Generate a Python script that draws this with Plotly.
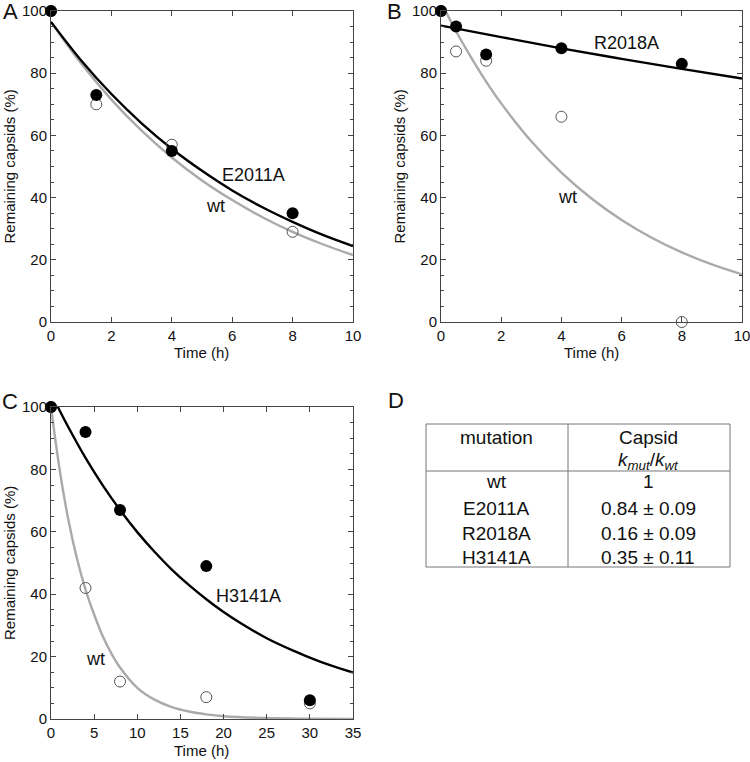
import plotly.graph_objects as go

# ---------------- data ----------------
# Panel A
a_t_pts = [0, 1.5, 4, 8]
a_mut_pts = [100, 73, 55, 35]          # E2011A (filled)
a_wt_pts = [100, 70, 57, 29]           # wt (open)
a_fit_t = [0, 1, 2, 3, 4, 5, 6, 7, 8, 9, 10]
a_mut_fit = [96.5, 84.1, 73.3, 63.9, 55.7, 48.6, 42.3, 36.9, 32.2, 28.0, 24.4]
a_wt_fit = [96.5, 83.1, 71.5, 61.5, 52.9, 45.5, 39.2, 33.7, 29.0, 25.0, 21.5]

# Panel B
b_t_pts = [0, 0.5, 1.5, 4, 8]
b_mut_pts = [100, 95, 86, 88, 83]      # R2018A (filled)
b_wt_pts = [100, 87, 84, 66, 0]        # wt (open)
b_mut_fit_t = [0, 2, 4, 6, 8, 10]
b_mut_fit = [95.3, 91.6, 88.0, 84.6, 81.4, 78.3]
b_wt_fit_t = [0, 0.5, 1, 1.5, 2, 3, 4, 5, 6, 7, 8, 9, 10]
b_wt_fit = [102.9, 93.5, 85.1, 77.3, 70.3, 58.1, 48.0, 39.7, 32.8, 27.1, 22.4, 18.5, 15.3]

# Panel C
c_t_pts = [0, 4, 8, 18, 30]
c_mut_pts = [100, 92, 67, 49, 6]       # H3141A (filled)
c_wt_pts = [100, 42, 12, 7, 5]         # wt (open)
c_mut_fit_t = [0, 1, 2, 4, 6, 8, 10, 12, 14, 16, 18, 20, 22, 25, 28, 30, 32, 35]
c_mut_fit = [104.6, 98.9, 93.6, 83.7, 74.9, 67.0, 59.9, 53.6, 47.9, 42.9, 38.4,
             34.3, 30.7, 25.9, 22.0, 19.7, 17.6, 14.9]
c_wt_fit_t = [0, 1, 2, 3, 4, 5, 6, 7, 8, 10, 12, 14, 16, 18, 20, 25, 30, 35]
c_wt_fit = [100, 80, 64, 51.5, 41.5, 33.5, 26.5, 21, 16.5, 10, 6.2, 3.8, 2.4,
            1.5, 0.9, 0.3, 0.1, 0]

# Panel D table
table_header = ["mutation", "Capsid"]
table_mutations = ["wt", "E2011A", "R2018A", "H3141A"]
table_ratios = ["1", "0.84 ± 0.09", "0.16 ± 0.09", "0.35 ± 0.11"]

# ---------------- figure ----------------
W, H = 750, 762
FONT = "Liberation Sans, Arial, sans-serif"
TXT = "#111111"
BLACK = "#000000"
GRAY = "#aaaaaa"
AXC = "#444444"

fig = go.Figure()

def px_x(p):
    return p / W

def px_y(p):
    return 1 - p / H

panels = [
    ("x", "y", (51, 353), (11, 322), 10, 2),
    ("x2", "y2", (441, 742), (11, 322), 10, 2),
    ("x3", "y3", (51, 353), (407, 719), 35, 5),
]

def add_panel(xa, ya, t_pts, mut_pts, wt_pts, mut_ft, mut_fit, wt_ft, wt_fit):
    fig.add_trace(go.Scatter(x=wt_ft, y=wt_fit, mode="lines", line=dict(color=GRAY, width=2.4, shape="spline"),
                             xaxis=xa, yaxis=ya, showlegend=False, hoverinfo="skip"))
    fig.add_trace(go.Scatter(x=mut_ft, y=mut_fit, mode="lines", line=dict(color=BLACK, width=2.4, shape="spline"),
                             xaxis=xa, yaxis=ya, showlegend=False, hoverinfo="skip"))
    fig.add_trace(go.Scatter(x=t_pts, y=wt_pts, mode="markers",
                             marker=dict(symbol="circle-open", size=11, color="#555555",
                                         line=dict(width=1, color="#555555")),
                             cliponaxis=False, xaxis=xa, yaxis=ya, showlegend=False))
    fig.add_trace(go.Scatter(x=t_pts, y=mut_pts, mode="markers",
                             marker=dict(symbol="circle", size=12, color=BLACK),
                             cliponaxis=False, xaxis=xa, yaxis=ya, showlegend=False))

add_panel("x", "y", a_t_pts, a_mut_pts, a_wt_pts, a_fit_t, a_mut_fit, a_fit_t, a_wt_fit)
add_panel("x2", "y2", b_t_pts, b_mut_pts, b_wt_pts, b_mut_fit_t, b_mut_fit, b_wt_fit_t, b_wt_fit)
add_panel("x3", "y3", c_t_pts, c_mut_pts, c_wt_pts, c_mut_fit_t, c_mut_fit, c_wt_fit_t, c_wt_fit)

layout = dict(
    template="none",
    width=W, height=H,
    margin=dict(l=0, r=0, t=0, b=0, pad=0),
    paper_bgcolor="white", plot_bgcolor="white",
    font=dict(family=FONT, size=15, color=TXT),
    showlegend=False,
)

axis_common = dict(showline=True, linecolor=AXC, linewidth=1, mirror="ticks",
                   ticks="inside", ticklen=5, tickcolor=AXC, showgrid=False,
                   zeroline=False, automargin=False, ticklabeloverflow="allow",
                   tickfont=dict(family=FONT, size=15, color=TXT))

for i, (xa, ya, (x0, x1), (y0, y1), xmax, xd) in enumerate(panels):
    suffix = "" if i == 0 else str(i + 1)
    layout["xaxis" + suffix] = dict(
        axis_common, domain=[px_x(x0), px_x(x1)], range=[0, xmax], dtick=xd, tick0=0,
        anchor=ya,
    )
    layout["yaxis" + suffix] = dict(
        axis_common, domain=[px_y(y1), px_y(y0)], range=[0, 100], dtick=20, tick0=0,
        anchor=xa, minor=dict(ticks="inside", dtick=5, ticklen=3, tickcolor=AXC),
    )

fig.update_layout(**layout)

# axis titles (placed as annotations so they stay put with zero margins)
for (xa, ya, (x0, x1), (y0, y1), xmax, xd) in panels:
    fig.add_annotation(x=px_x((x0 + x1) / 2), y=px_y(y1 + 31), xref="paper", yref="paper",
                       text="Time (h)", showarrow=False, xanchor="center", yanchor="middle",
                       font=dict(family=FONT, size=15, color=TXT))
    fig.add_annotation(x=px_x(x0 - 42), y=px_y((y0 + y1) / 2), xref="paper", yref="paper",
                       text="Remaining capsids (%)", showarrow=False, textangle=-90,
                       xanchor="center", yanchor="middle",
                       font=dict(family=FONT, size=15, color=TXT))

# curve labels
curve_labels = [
    ("x", "y", 6.7, 47.3, "E2011A"),
    ("x", "y", 5.45, 37.3, "wt"),
    ("x2", "y2", 6.15, 89.6, "R2018A"),
    ("x2", "y2", 4.2, 40.3, "wt"),
    ("x3", "y3", 22.9, 39.4, "H3141A"),
    ("x3", "y3", 5.1, 19.1, "wt"),
]
for xa, ya, xv, yv, txt in curve_labels:
    fig.add_annotation(x=xv, y=yv, xref=xa, yref=ya, text=txt, showarrow=False,
                       xanchor="center", yanchor="middle",
                       font=dict(family=FONT, size=18, color=TXT))

# panel letters
for txt, xp, yp in [("A", 10, 12), ("B", 395, 12), ("C", 10, 402), ("D", 396, 400)]:
    fig.add_annotation(x=px_x(xp), y=px_y(yp), xref="paper", yref="paper", text=txt,
                       showarrow=False, xanchor="center", yanchor="middle",
                       font=dict(family=FONT, size=22, color=TXT))

# table D
tl, tr, tt, thb, tb, tdiv = 426, 730, 424, 471, 567, 568
line_style = dict(color="#777777", width=1)
fig.add_shape(type="rect", xref="paper", yref="paper", x0=px_x(tl), x1=px_x(tr),
              y0=px_y(tb), y1=px_y(tt), line=line_style)
fig.add_shape(type="line", xref="paper", yref="paper", x0=px_x(tl), x1=px_x(tr),
              y0=px_y(thb), y1=px_y(thb), line=line_style)
fig.add_shape(type="line", xref="paper", yref="paper", x0=px_x(tdiv), x1=px_x(tdiv),
              y0=px_y(tb), y1=px_y(tt), line=line_style)

col1, col2 = 497, 648
tfont = dict(family=FONT, size=19, color=TXT)

def tcell(xp, yp, text):
    fig.add_annotation(x=px_x(xp), y=px_y(yp), xref="paper", yref="paper", text=text,
                       showarrow=False, xanchor="center", yanchor="middle", font=tfont)

tcell(col1, 437, table_header[0])
tcell(col2, 437, table_header[1])
tcell(col2, 461, "<i>k</i><sub><i>mut</i></sub>/<i>k</i><sub><i>wt</i></sub>")
row_y = [481, 508, 533, 557]
for m, r, ry in zip(table_mutations, table_ratios, row_y):
    tcell(col1, ry, m)
    tcell(col2, ry, r)

fig.write_html("out.html", config={"displayModeBar": False},
               post_script="document.body.style.margin='0px';document.body.style.overflow='hidden';")
